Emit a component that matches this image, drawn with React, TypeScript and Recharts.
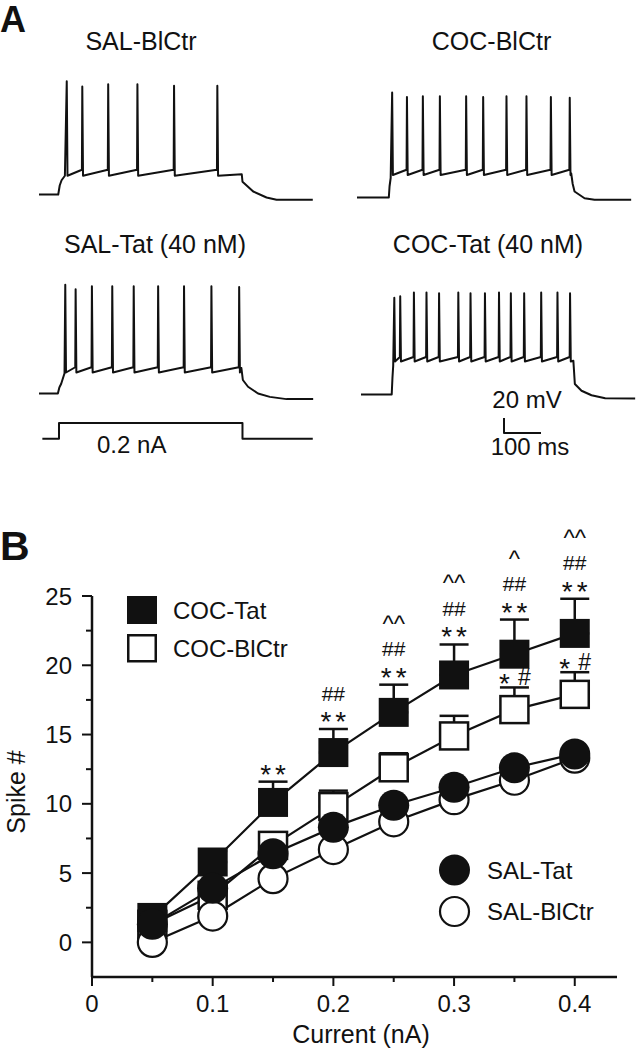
import React from 'react'
import { LineChart, Line, XAxis, YAxis, ErrorBar } from 'recharts'

const FONT = '"Liberation Sans", Arial, Helvetica, sans-serif'
const INK = '#111'

// ---- panel A: whole-cell traces (t in ms from trace start, V in mV) ----
const MS_PX = 0.37
const MV_PX = 0.75
const V_DOMAIN: [number, number] = [-80, 92]
const T_DOMAIN: [number, number] = [0, 745]

const salCtrRise = [[0, -70], [52, -70], [56, -58], [61, -51], [70, -45]]
const salCtrSpikeT = [75, 117, 187, 266, 365, 482]
const salCtrSpikeV = [81, 74, 77, 77, 75, 75]
const salCtrDecay = [[548, -43], [550, -53], [579, -66], [615, -74], [642, -77], [740, -77]]

const cocCtrRise = [[0, -70], [86, -70], [88, -55], [91, -44]]
const cocCtrSpikeT = [95, 135, 178, 224, 295, 341, 404, 458, 524, 575]
const cocCtrSpikeV = [70, 64, 65, 65, 65, 64, 65, 65, 64, 63]
const cocCtrDecay = [[579, -38], [583, -52], [588, -62], [615, -71], [642, -73], [741, -73]]

const salTatRise = [[0, -70], [51, -70], [55, -62], [60, -57], [69, -43]]
const salTatSpikeT = [71, 99, 143, 198, 256, 322, 392, 466, 541]
const salTatSpikeV = [75, 69, 73, 73, 73, 73, 73, 73, 72]
const salTatDecay = [[547, -36], [551, -52], [565, -61], [592, -70], [624, -74.5], [669, -77.5], [741, -77.5]]

const cocTatRise = [[0, -70], [83, -70], [85, -48], [87, -32]]
const cocTatSpikeT = [90, 106, 143, 177, 211, 263, 296, 335, 373, 405, 441, 487, 531, 565]
const cocTatSpikeV = [59, 61, 66, 66, 65, 66, 65, 65, 66, 65, 65, 66, 66, 65]
const cocTatDecay = [[574, -25], [578, -56], [596, -65], [623, -71], [660, -75], [741, -75.5]]

// current command (nA)
const stepT = [9, 54, 54, 550, 550, 740]
const stepI = [0, 0, 0.2, 0.2, 0, 0]

// scale bar: 100 ms / 20 mV
const barT = [0, 0, 100]
const barV = [20, 0, 0]

// ---- panel B: spike count vs current ----
const currents = [0.05, 0.1, 0.15, 0.2, 0.25, 0.3, 0.35, 0.4]
const cocTat = [1.8, 5.8, 10.1, 13.7, 16.6, 19.3, 20.8, 22.3]
const cocTatSem = [0.5, 0.8, 1.5, 1.7, 2.0, 2.2, 2.5, 2.5]
const cocCtr = [1.3, 3.4, 7.0, 9.8, 12.6, 14.9, 16.8, 17.9]
const cocCtrSem = [0.4, 0.6, 0.8, 1.15, 1.05, 1.45, 1.6, 1.6]
const salTat = [1.3, 3.9, 6.4, 8.3, 9.9, 11.2, 12.6, 13.6]
const salCtr = [0, 1.9, 4.6, 6.7, 8.7, 10.3, 11.7, 13.3]

const tatStars = ['', '', '**', '**', '**', '**', '**', '**']
const tatHash = ['', '', '', '##', '##', '##', '##', '##']
const tatCaret = ['', '', '', '', '^^', '^^', '^', '^^']
const ctrStar = ['', '', '', '', '', '', '*', '*']
const ctrHash = ['', '', '', '', '', '', '#', '#']

const xTicks = [0, 0.05, 0.1, 0.15, 0.2, 0.25, 0.3, 0.35, 0.4]
const yTicks = [0, 2.5, 5, 7.5, 10, 12.5, 15, 17.5, 20, 22.5, 25]

function buildTrace(rise: number[][], spikeT: number[], spikeV: number[], trough: number, pre: number, decay: number[][]) {
  const pts = rise.map(([t, v]) => ({ t, v }))
  spikeT.forEach((t, i) => {
    if (i > 0) pts.push({ t: t - 1, v: pre })
    pts.push({ t, v: spikeV[i] })
    pts.push({ t: t + 2, v: trough })
  })
  decay.forEach(([t, v]) => pts.push({ t, v }))
  return pts
}

const traces = [
  { left: 39, top: 72.8, data: buildTrace(salCtrRise, salCtrSpikeT, salCtrSpikeV, -45, -37, salCtrDecay) },
  { left: 357, top: 76.2, data: buildTrace(cocCtrRise, cocCtrSpikeT, cocCtrSpikeV, -40, -33, cocCtrDecay) },
  { left: 39.3, top: 271.8, data: buildTrace(salTatRise, salTatSpikeT, salTatSpikeV, -42, -35, salTatDecay) },
  { left: 360.7, top: 272.5, data: buildTrace(cocTatRise, cocTatSpikeT, cocTatSpikeV, -26, -20, cocTatDecay) },
]
const stepData = stepT.map((t, i) => ({ t, v: stepI[i] }))
const barData = barT.map((t, i) => ({ t, v: barV[i] }))

const rows = currents.map((c, i) => ({
  c,
  cocTat: cocTat[i], tatErr: [0, cocTatSem[i]], tatTop: cocTat[i] + cocTatSem[i],
  cocCtr: cocCtr[i], ctrErr: [0, cocCtrSem[i]], ctrTop: cocCtr[i] + cocCtrSem[i],
  salTat: salTat[i], salCtr: salCtr[i],
}))

function Trace({ data, left, top, xDomain, yDomain, pxX, pxY }: any) {
  const pad = 6
  const w = (xDomain[1] - xDomain[0]) * pxX
  const h = (yDomain[1] - yDomain[0]) * pxY
  return (
    <div style={{ position: 'absolute', left: left - pad, top: top - pad }}>
      <LineChart width={w + 2 * pad} height={h + 2 * pad} data={data} margin={{ top: pad, right: pad, bottom: pad, left: pad }}>
        <XAxis type="number" dataKey="t" domain={xDomain} hide />
        <YAxis type="number" domain={yDomain} hide />
        <Line type="linear" dataKey="v" stroke={INK} strokeWidth={2} strokeLinejoin="round" dot={false} activeDot={false} isAnimationActive={false} />
      </LineChart>
    </div>
  )
}

function XTick({ x, y, payload }: any) {
  const v = payload.value
  const major = Math.abs(v * 10 - Math.round(v * 10)) < 1e-6
  return (
    <g>
      <line x1={x} x2={x} y1={y} y2={y + (major ? 9 : 5)} stroke={INK} strokeWidth={2} />
      {major && <text x={x} y={y + 35} textAnchor="middle" fontSize={24} fontFamily={FONT} fill={INK}>{v === 0 ? '0' : v.toFixed(1)}</text>}
    </g>
  )
}

function YTick({ x, y, payload }: any) {
  const v = payload.value
  const major = v % 5 === 0
  return (
    <g>
      <line x1={x - (major ? 10 : 6)} x2={x} y1={y} y2={y} stroke={INK} strokeWidth={2} />
      {major && <text x={x - 20} y={y + 8.5} textAnchor="end" fontSize={24} fontFamily={FONT} fill={INK}>{v}</text>}
    </g>
  )
}

const txt = { fontFamily: FONT, fill: INK }

// stacked significance marks above the COC-Tat error bars, one text per point
function TatMarks({ cx, cy, index }: any) {
  if (!tatStars[index] && !tatHash[index] && !tatCaret[index]) return <g key={`tm${index}`} />
  return (
    <text key={`tm${index}`} textAnchor="middle" {...txt}>
      {tatCaret[index] && <tspan x={cx} y={cy - 53} fontSize={24}>{tatCaret[index]}</tspan>}
      {tatHash[index] && <tspan x={cx} y={cy - 28.5} fontSize={21}>{tatHash[index]}</tspan>}
      {tatStars[index] && <tspan x={cx + 2} y={cy + 2} fontSize={28} letterSpacing={4}>{tatStars[index]}</tspan>}
    </text>
  )
}

function CtrMarks({ cx, cy, index }: any) {
  if (!ctrStar[index]) return <g key={`cm${index}`} />
  return (
    <text key={`cm${index}`} textAnchor="middle" {...txt}>
      <tspan x={cx - 10} y={cy + 6} fontSize={28}>{ctrStar[index]}</tspan>
      <tspan x={cx + 10} y={cy - 2} fontSize={23}>{ctrHash[index]}</tspan>
    </text>
  )
}

const B_TOP = 520

export default function App() {
  return (
    <div style={{ position: 'absolute', left: 0, top: 0, width: 636, height: 1050, background: '#fff' }}>
      {traces.map((tr, i) => (
        <Trace key={i} data={tr.data} left={tr.left} top={tr.top} xDomain={T_DOMAIN} yDomain={V_DOMAIN} pxX={MS_PX} pxY={MV_PX} />
      ))}
      <Trace data={stepData} left={39.3} top={419.3} xDomain={T_DOMAIN} yDomain={[-0.05, 0.25]} pxX={MS_PX} pxY={79.5} />
      <Trace data={barData} left={503.7} top={418.3} xDomain={[0, 100]} yDomain={[0, 20]} pxX={MS_PX} pxY={MV_PX} />

      <div style={{ position: 'absolute', left: 0, top: B_TOP }}>
        <LineChart width={636} height={530} data={rows} margin={{ top: 76, right: 19, bottom: 13, left: 0 }}>
          <XAxis type="number" dataKey="c" domain={[0, 0.435]} ticks={xTicks} interval={0}
            tick={(p: any) => <XTick {...p} />} tickLine={false} tickSize={0} tickMargin={0} height={60}
            axisLine={{ stroke: INK, strokeWidth: 2.5 }}
            label={() => <text x={361} y={1043 - B_TOP} textAnchor="middle" fontSize={25} {...txt}>Current (nA)</text>} />
          <YAxis type="number" domain={[-2.5, 25]} ticks={yTicks} interval={0}
            tick={(p: any) => <YTick {...p} />} tickLine={false} tickSize={0} tickMargin={0} width={92}
            axisLine={{ stroke: INK, strokeWidth: 2.5 }}
            label={() => <text x={25} y={792 - B_TOP} transform={`rotate(-90 25 ${792 - B_TOP})`} textAnchor="middle" fontSize={25} {...txt}>Spike #</text>} />
          <Line dataKey="cocCtr" stroke={INK} strokeWidth={2.2} isAnimationActive={false} activeDot={false}
            dot={(p: any) => <rect key={`cc${p.index}`} x={p.cx - 14} y={p.cy - 13.5} width={28} height={27} fill="#fff" stroke={INK} strokeWidth={2.5} />}>
            <ErrorBar dataKey="ctrErr" direction="y" width={14.5} stroke={INK} strokeWidth={2.5} isAnimationActive={false} />
          </Line>
          <Line dataKey="cocTat" stroke={INK} strokeWidth={2.2} isAnimationActive={false} activeDot={false}
            dot={(p: any) => <rect key={`ct${p.index}`} x={p.cx - 15} y={p.cy - 14.5} width={30} height={29} fill={INK} />}>
            <ErrorBar dataKey="tatErr" direction="y" width={14.5} stroke={INK} strokeWidth={2.5} isAnimationActive={false} />
          </Line>
          <Line dataKey="salCtr" stroke={INK} strokeWidth={2.2} isAnimationActive={false} activeDot={false}
            dot={(p: any) => <circle key={`sc${p.index}`} cx={p.cx} cy={p.cy} r={14.5} fill="#fff" stroke={INK} strokeWidth={2.2} />} />
          <Line dataKey="salTat" stroke={INK} strokeWidth={2.2} isAnimationActive={false} activeDot={false}
            dot={(p: any) => <circle key={`st${p.index}`} cx={p.cx} cy={p.cy} r={15.5} fill={INK} />} />
          <Line dataKey="tatTop" stroke="none" isAnimationActive={false} activeDot={false} dot={(p: any) => <TatMarks key={`t${p.index}`} {...p} />} />
          <Line dataKey="ctrTop" stroke="none" isAnimationActive={false} activeDot={false} dot={(p: any) => <CtrMarks key={`c${p.index}`} {...p} />} />
        </LineChart>
      </div>

      <svg width={636} height={1050} style={{ position: 'absolute', left: 0, top: 0, pointerEvents: 'none' }}>
        <text x={0} y={32} fontSize={36} fontWeight="bold" {...txt}>A</text>
        <text x={0} y={560} fontSize={41} fontWeight="bold" {...txt}>B</text>
        <text x={141} y={50} textAnchor="middle" fontSize={25} {...txt}>SAL-BlCtr</text>
        <text x={491.5} y={50} textAnchor="middle" fontSize={25} {...txt}>COC-BlCtr</text>
        <text x={155} y={253} textAnchor="middle" fontSize={25} {...txt}>SAL-Tat (40 nM)</text>
        <text x={488} y={253} textAnchor="middle" fontSize={25} {...txt}>COC-Tat (40 nM)</text>
        <text x={131.7} y={453} textAnchor="middle" fontSize={24} {...txt}>0.2 nA</text>
        <text x={527} y={408} textAnchor="middle" fontSize={24} {...txt}>20 mV</text>
        <text x={530} y={455} textAnchor="middle" fontSize={24} {...txt}>100 ms</text>

        <rect x={127} y={596} width={30} height={28} fill={INK} />
        <rect x={128.25} y={635.25} width={27.5} height={26} fill="#fff" stroke={INK} strokeWidth={2.5} />
        <text x={173} y={619} fontSize={24} {...txt}>COC-Tat</text>
        <text x={173} y={657} fontSize={24} {...txt}>COC-BlCtr</text>
        <circle cx={454.5} cy={870} r={15.5} fill={INK} />
        <circle cx={454.5} cy={911.5} r={14.5} fill="#fff" stroke={INK} strokeWidth={2.2} />
        <text x={487} y={878.6} fontSize={24} {...txt}>SAL-Tat</text>
        <text x={487} y={920} fontSize={24} {...txt}>SAL-BlCtr</text>
      </svg>
    </div>
  )
}
